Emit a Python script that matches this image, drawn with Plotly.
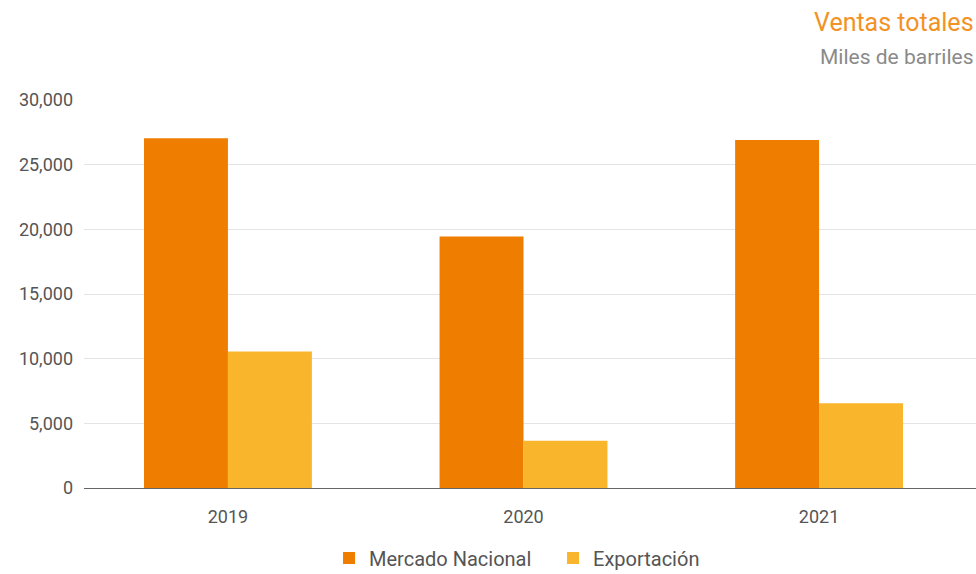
import plotly.graph_objects as go

# data
years = ["2019", "2020", "2021"]
mercado_nacional = [27050, 19440, 26900]
exportacion = [10550, 3650, 6550]

FONT = "Roboto"

fig = go.Figure()

fig.add_trace(go.Bar(
    x=years,
    y=mercado_nacional,
    name="Mercado Nacional",
    marker=dict(color="#EF7D00", line=dict(width=0))
))

fig.add_trace(go.Bar(
    x=years,
    y=exportacion,
    name="Exportación",
    marker=dict(color="#F9B52C", line=dict(width=0))
))

# title block, top right
fig.add_annotation(
    text="Ventas totales", xref="paper", yref="paper",
    x=1.0, y=1.0, yshift=78, xanchor="right", yanchor="middle",
    showarrow=False, font=dict(family=FONT, size=25, color="#F39224")
)
fig.add_annotation(
    text="Miles de barriles", xref="paper", yref="paper",
    x=1.0, y=1.0, yshift=43, xanchor="right", yanchor="middle",
    showarrow=False, font=dict(family=FONT, size=21, color="#8a8a8a")
)

fig.update_layout(
    width=976,
    height=574,
    barmode="group",
    bargap=0.432,
    bargroupgap=0,
    plot_bgcolor="white",
    paper_bgcolor="white",
    font=dict(family=FONT, size=18, color="#555555"),
    margin=dict(l=84, r=0, t=100, b=86, autoexpand=False),
    legend=dict(
        orientation="h",
        x=0.2747, xanchor="left",
        yref="container",
        y=0.028, yanchor="middle",
        font=dict(size=20, color="#555555"),
        itemwidth=30,
        entrywidth=179,
        entrywidthmode="pixels",
    ),
    xaxis=dict(
        range=[-0.487, 2.531],
        showgrid=False,
        showline=True,
        linecolor="#666666",
        linewidth=1,
        ticks="",
        ticklabelstandoff=12,
        tickfont=dict(size=18, color="#555555"),
    ),
    yaxis=dict(
        range=[0, 30000],
        tickvals=[0, 5000, 10000, 15000, 20000, 25000, 30000],
        tickformat=",",
        showgrid=True,
        gridcolor="#e4e4e4",
        gridwidth=1,
        zeroline=False,
        showline=False,
        ticks="",
        ticklabelstandoff=10,
        tickfont=dict(size=18, color="#555555"),
    ),
)

# drop the page's default body margin so the figure fills the window
fig.write_html(
    "out.html",
    config={"displayModeBar": False},
    post_script="document.body.style.margin='0';",
)
